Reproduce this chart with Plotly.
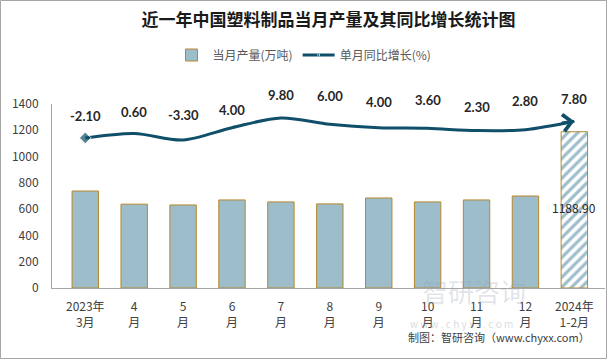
import plotly.graph_objects as go

categories = ["2023年<br>3月", "4<br>月", "5<br>月", "6<br>月", "7<br>月", "8<br>月",
              "9<br>月", "10<br>月", "11<br>月", "12<br>月", "2024年<br>1-2月"]
output_wt = [738, 638, 632, 670, 655, 640, 685, 655, 670, 700, 1188.90]
growth_pct = [-2.10, 0.60, -3.30, 4.00, 9.80, 6.00, 4.00, 3.60, 2.30, 2.80, 7.80]
label_shift = [22, 21, 25, 18, 23, 28, 26, 28, 24, 29, 22]

W, H = 607, 359
ML, MR, MT, MB = 52, 2, 104, 71
PW, PH = W - ML - MR, H - MT - MB

BAR = "#9dbdcb"
EDGE = "#b5882a"
LINE = "#0f4f69"
FONT = "Noto Sans CJK SC"

fig = go.Figure()

fig.add_trace(go.Bar(
    x=categories[:-1], y=output_wt[:-1], name="当月产量(万吨)",
    width=0.54,
    marker=dict(color=BAR, line=dict(color=EDGE, width=1)),
    hoverinfo="skip",
))
fig.add_trace(go.Bar(
    x=categories[-1:], y=output_wt[-1:], name="当月产量(万吨)", showlegend=False,
    width=0.54,
    marker=dict(color="white", line=dict(color=EDGE, width=1),
                pattern=dict(shape="/", fgcolor=BAR, bgcolor="white", fgopacity=1,
                             size=7, solidity=0.45, fillmode="replace")),
    hoverinfo="skip",
))

n = len(categories)
fig.add_trace(go.Scatter(
    x=categories, y=growth_pct, name="单月同比增长(%)", yaxis="y2",
    mode="lines+markers", line=dict(color=LINE, width=3, shape="spline", smoothing=0.9),
    marker=dict(symbol=["diamond"] + ["circle"] * (n - 1),
                size=[9] + [0] * (n - 1), color=LINE),
    hoverinfo="skip",
))

# end arrowhead
fig.add_annotation(x=categories[-1], y=growth_pct[-1], xref="x", yref="y2",
                   ax=-14, ay=2, showarrow=True, arrowhead=4, arrowsize=1.1,
                   arrowwidth=3, arrowcolor=LINE, text="")

for c, g, s in zip(categories, growth_pct, label_shift):
    fig.add_annotation(x=c, y=g, xref="x", yref="y2", text=f"{g:.2f}", showarrow=False,
                       yshift=s, font=dict(family="Lato", size=13, color="#262626", weight="bold"))

fig.add_annotation(x=categories[-1], y=output_wt[-1] / 2 + 20, xref="x", yref="y",
                   text=f"{output_wt[-1]:.2f}", showarrow=False,
                   font=dict(family=FONT, size=12, color="#262626"))

# watermark
fig.add_annotation(x=(528 - ML) / PW, y=(MT + PH - 311) / PH, xref="paper", yref="paper",
                   text="智研咨询", showarrow=False,
                   font=dict(family=FONT, size=26, color="rgba(150,160,175,0.28)"))
fig.add_annotation(x=(515 - ML) / PW, y=(MT + PH - 333) / PH, xref="paper", yref="paper",
                   text="w w w . c h y x x . c o m", showarrow=False,
                   font=dict(family=FONT, size=10, color="rgba(150,160,175,0.40)"))
fig.add_annotation(x=(592 - ML) / PW, y=(MT + PH - 347) / PH, xref="paper", yref="paper",
                   xanchor="right", text="制图：智研咨询（www.chyxx.com）", showarrow=False,
                   font=dict(family=FONT, size=11, color="#404040"))

# outer border
fig.add_shape(type="rect", xref="paper", yref="paper",
              x0=(0.5 - ML) / PW, x1=(W - 0.5 - ML) / PW,
              y0=-(MB - 0.5) / PH, y1=1 + (MT - 0.5) / PH,
              line=dict(color="#a6a6a6", width=1), layer="below")

fig.update_layout(
    width=W, height=H,
    margin=dict(l=ML, r=MR, t=MT, b=MB),
    paper_bgcolor="white", plot_bgcolor="white",
    barmode="overlay",
    title=dict(text="<b>近一年中国塑料制品当月产量及其同比增长统计图</b>",
               x=0.5, xref="paper", xanchor="center", y=1 - 20 / H, yanchor="middle",
               font=dict(family=FONT, size=17, color="#1a1a1a")),
    legend=dict(orientation="h", x=0.5, xref="container", xanchor="center",
                y=1 - 55 / H, yref="container", yanchor="middle",
                font=dict(family=FONT, size=12, color="#595959"),
                itemwidth=32, tracegroupgap=0),
    xaxis=dict(showline=True, linecolor="#a6a6a6", linewidth=1, ticks="",
               categoryorder="array", categoryarray=categories,
               tickfont=dict(family=FONT, size=12, color="#404040"),
               ticklabelstandoff=8),
    yaxis=dict(range=[0, 1400], dtick=200, showgrid=False, zeroline=False,
               showline=True, linecolor="#a6a6a6", linewidth=1, ticks="",
               tickfont=dict(family=FONT, size=12, color="#404040"),
               ticklabelstandoff=10),
    yaxis2=dict(overlaying="y", range=[-91.4, 18.1], visible=False),
    showlegend=True,
)

fig.write_html("out.html", config={"displayModeBar": False},
               post_script="document.body.style.margin='0';")
